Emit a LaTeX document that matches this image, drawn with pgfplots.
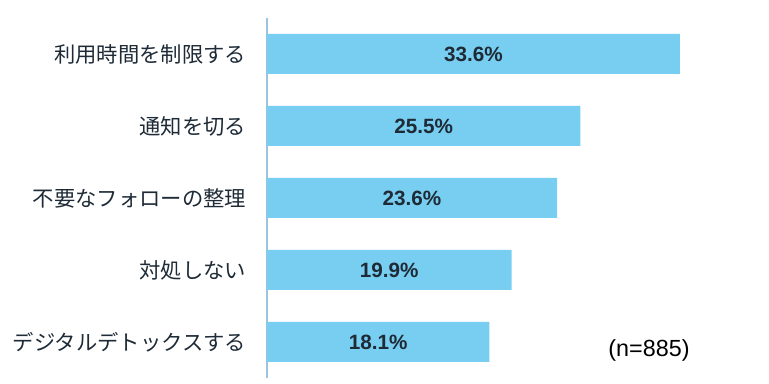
\documentclass[border=0pt]{standalone}
\usepackage{pgfplots}
\pgfplotsset{compat=1.18}
\usepackage{fontspec}
\setmainfont{Liberation Sans}
\newfontfamily\cjk{Noto Sans CJK JP}
\definecolor{barblue}{HTML}{78CEF0}
\definecolor{txt}{HTML}{1E2B37}
\definecolor{axblue}{HTML}{9CC4DE}
\begin{document}
\begin{tikzpicture}
\path[use as bounding box] (0,0) rectangle (576.75pt,288pt);
\begin{axis}[
  at={(200.25pt,4.5pt)}, anchor=south west,
  scale only axis, width=376.5pt, height=270pt,
  xmin=0, xmax=40.85, ymin=-0.5, ymax=4.5, y dir=reverse,
  hide x axis,
  axis y line*=left,
  y axis line style={draw=axblue, line width=0.8pt},
  ytick={0,1,2,3,4},
  yticklabels={利用時間を制限する,通知を切る,不要なフォローの整理,対処しない,デジタルデトックスする},
  yticklabel style={font=\cjk\fontsize{16pt}{19pt}\selectfont, text=txt, anchor=east, xshift=-12pt},
  ytick style={draw=none},
  clip=false,
]
\addplot[xbar, bar width=30pt, bar shift=0pt, fill=barblue, draw=none]
  coordinates {(33.6,0) (25.5,1) (23.6,2) (19.9,3) (18.1,4)};
\addplot[only marks, mark=none, nodes near coords, point meta=explicit symbolic,
  nodes near coords style={anchor=center, font=\bfseries\fontsize{15.5pt}{18pt}\selectfont, text=txt}]
  coordinates {(16.8,0) [33.6\%] (12.75,1) [25.5\%] (11.8,2) [23.6\%] (9.95,3) [19.9\%] (9.05,4) [18.1\%]};
\end{axis}
\node[font=\fontsize{17.5pt}{20pt}\selectfont, text=black] at (486.75pt,25.5pt) {(n=885)};
\end{tikzpicture}
\end{document}
